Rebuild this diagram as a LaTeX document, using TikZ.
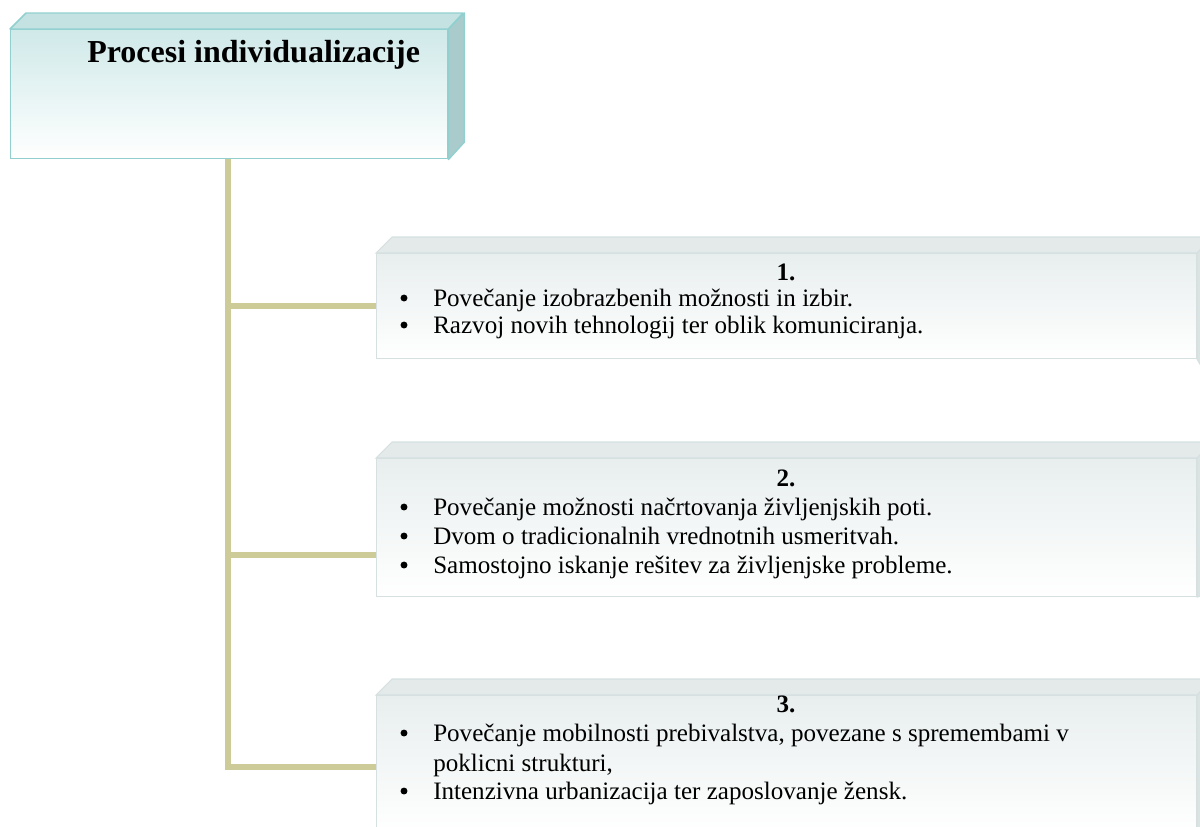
\documentclass[tikz,border=0pt]{standalone}
\usepackage{fontspec}
\setmainfont{Liberation Serif}

\definecolor{stemcol}{RGB}{205,204,153}
\definecolor{headline}{RGB}{146,208,208}
\definecolor{headtop}{RGB}{196,226,226}
\definecolor{headside}{RGB}{170,203,203}
\definecolor{headface}{RGB}{208,233,233}
\definecolor{boxline}{RGB}{214,224,224}
\definecolor{boxtop}{RGB}{228,234,234}
\definecolor{boxside}{RGB}{220,227,227}
\definecolor{boxface}{RGB}{232,238,238}

\begin{document}
\begin{tikzpicture}[x=0.75pt,y=0.75pt,yscale=-1,xscale=1,
    headface/.style={draw=headline, line width=1.1pt, top color=headface, bottom color=white, anchor=north west, inner sep=0pt},
    boxface/.style={draw=boxline, line width=0.8pt, top color=boxface, bottom color=white, anchor=north west, inner sep=0pt, minimum width=615pt},
    stem/.style={draw=stemcol, line width=4.5pt},
    body/.style={anchor=base west, inner sep=0pt, font=\fontsize{18.8pt}{23pt}\selectfont},
    dot/.style={circle, fill=black, inner sep=0pt, minimum size=5.2pt},
    numb/.style={anchor=base, inner sep=0pt, font=\fontsize{18.8pt}{23pt}\selectfont\bfseries}]
    \useasboundingbox (0,0) rectangle (1200,826);
    \clip (0,0) rectangle (1200,826);

    % Title box
    \node[headface, minimum width=327.75pt, minimum height=96.75pt] (head) at (10,29) {};
    \filldraw[fill=headtop, draw=headline, line width=1.1pt, line join=round] (head.north west) -- ++(16,-16) -- ++(437,0) -- (head.north east) -- cycle;
    \filldraw[fill=headside, draw=headline, line width=1.1pt, line join=round] (head.north east) -- ++(16,-16) -- ++(0,129) -- (head.south east) -- cycle;
    \node[anchor=base west, inner sep=0pt, font=\fontsize{24pt}{28pt}\selectfont\bfseries] (title) at (87,62) {Procesi individualizacije};

    % Item boxes
    \node[boxface, minimum height=78.75pt] (box1) at (376,253) {};
    \node[boxface, minimum height=103.5pt] (box2) at (376,458) {};
    \node[boxface, minimum height=103.5pt] (box3) at (376,695) {};
    \foreach \b in {box1,box2,box3}{
        \filldraw[fill=boxtop, draw=boxline, line width=0.8pt] (\b.north west) -- ++(16,-16) -- ++(820,0) -- (\b.north east) -- cycle;
        \filldraw[fill=boxside, draw=boxline, line width=0.8pt] (\b.north east) -- ++(16,-16) -- ++(0,150) -- (\b.south east) -- cycle;
    }

    % Connectors
    \coordinate (trunk) at (228,767);
    \coordinate (j2) at (228,555);
    \draw[stem, line join=miter] (head.south -| trunk) -- (trunk) -- (trunk -| box3.west);
    \draw[stem] (box1.west -| trunk) -- (box1.west);
    \draw[stem] (j2) -- (j2 -| box2.west);

    % Box 1
    \node[numb] (n1) at (786,280) {1.};
    \node[dot] (b11) at (404,298) {};
    \node[body] (t11) at (433,306) {Povečanje izobrazbenih možnosti in izbir.};
    \node[dot] (b12) at (404,325) {};
    \node[body] (t12) at (433,333) {Razvoj novih tehnologij ter oblik komuniciranja.};

    % Box 2
    \node[numb] (n2) at (786,486) {2.};
    \node[dot] (b21) at (404,507) {};
    \node[body] (t21) at (433,515) {Povečanje možnosti načrtovanja življenjskih poti.};
    \node[dot] (b22) at (404,536) {};
    \node[body] (t22) at (433,544) {Dvom o tradicionalnih vrednotnih usmeritvah.};
    \node[dot] (b23) at (404,565) {};
    \node[body] (t23) at (433,573) {Samostojno iskanje rešitev za življenjske probleme.};

    % Box 3
    \node[numb] (n3) at (786,712) {3.};
    \node[dot] (b31) at (404,733) {};
    \node[body] (t31) at (433,741) {Povečanje mobilnosti prebivalstva, povezane s spremembami v};
    \node[body] (t32) at (433,771) {poklicni strukturi,};
    \node[dot] (b33) at (404,791) {};
    \node[body] (t33) at (433,799) {Intenzivna urbanizacija ter zaposlovanje žensk.};
\end{tikzpicture}
\end{document}
